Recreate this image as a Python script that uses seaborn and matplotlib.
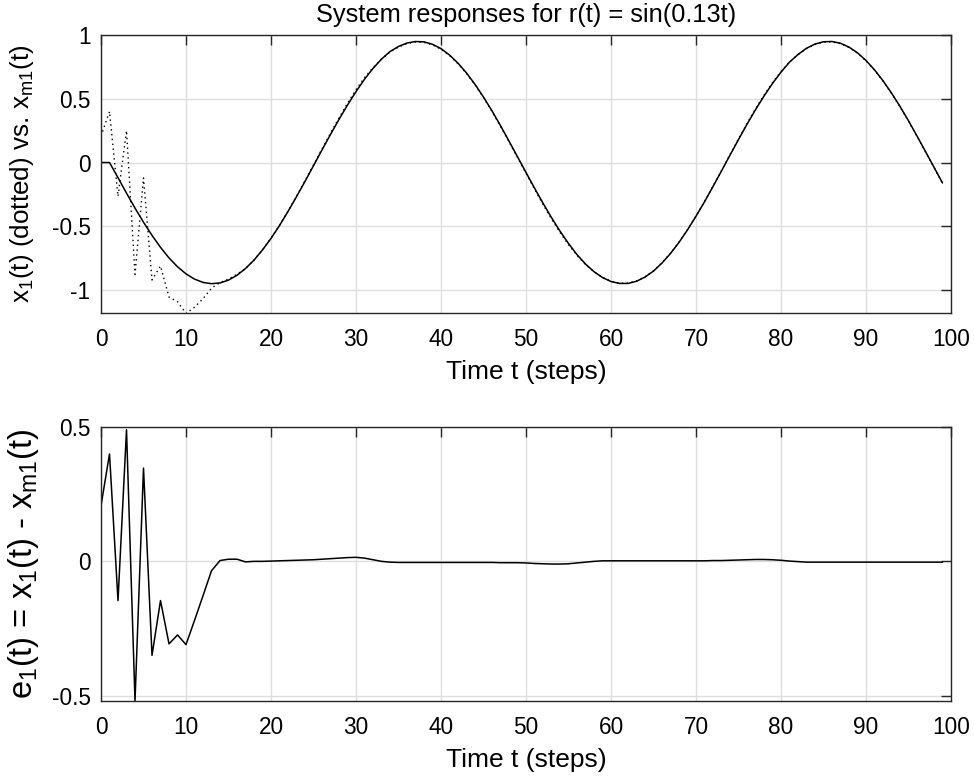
import numpy as np
import pandas as pd
import matplotlib
matplotlib.use("Agg")
import matplotlib.pyplot as plt
import seaborn as sns

# ---- data ----
t = list(range(100))

# reference-model output x_m1(t) (solid)
xm1 = [0.000, 0.000, -0.119, -0.240, -0.357, -0.468, -0.571, -0.665, -0.748, -0.817,
       -0.873, -0.914, -0.940, -0.950, -0.944, -0.922, -0.884, -0.831, -0.765, -0.685,
       -0.595, -0.494, -0.384, -0.268, -0.148, -0.025, 0.099, 0.220, 0.338, 0.451,
       0.556, 0.653, 0.738, 0.811, 0.870, 0.910, 0.937, 0.949, 0.946, 0.927,
       0.893, 0.843, 0.779, 0.702, 0.613, 0.513, 0.405, 0.289, 0.168, 0.045,
       -0.078, -0.200, -0.319, -0.432, -0.538, -0.635, -0.722, -0.796, -0.856, -0.902,
       -0.933, -0.948, -0.948, -0.931, -0.898, -0.851, -0.788, -0.713, -0.626, -0.528,
       -0.421, -0.308, -0.188, -0.066, 0.058, 0.180, 0.300, 0.414, 0.521, 0.620,
       0.709, 0.787, 0.847, 0.896, 0.929, 0.947, 0.949, 0.935, 0.905, 0.860,
       0.800, 0.727, 0.641, 0.545, 0.440, 0.327, 0.208, 0.086, -0.037, -0.160]

# tracking error e_1(t) = x_1(t) - x_m1(t)
e1 = [0.207, 0.400, -0.146, 0.490, -0.520, 0.347, -0.350, -0.146, -0.307, -0.274,
      -0.310, -0.220, -0.128, -0.035, 0.003, 0.008, 0.008, -0.002, 0.000, 0.000,
      0.001, 0.002, 0.003, 0.004, 0.005, 0.006, 0.008, 0.010, 0.012, 0.014,
      0.015, 0.012, 0.006, 0.000, -0.003, -0.004, -0.004, -0.004, -0.004, -0.004,
      -0.004, -0.004, -0.004, -0.004, -0.004, -0.004, -0.004, -0.005, -0.005, -0.005,
      -0.006, -0.008, -0.009, -0.010, -0.010, -0.009, -0.006, -0.003, 0.000, 0.002,
      0.002, 0.002, 0.002, 0.002, 0.002, 0.002, 0.002, 0.002, 0.002, 0.002,
      0.002, 0.002, 0.003, 0.003, 0.004, 0.005, 0.006, 0.007, 0.007, 0.006,
      0.004, 0.001, -0.001, -0.003, -0.003, -0.003, -0.003, -0.003, -0.003, -0.003,
      -0.003, -0.003, -0.003, -0.003, -0.003, -0.003, -0.003, -0.003, -0.003, -0.003]

# plant output x_1(t) (dotted) = x_m1 + e_1
x1 = [a + b for a, b in zip(xm1, e1)]

xticks = [0, 10, 20, 30, 40, 50, 60, 70, 80, 90, 100]
yticks_top = [-1, -0.5, 0, 0.5, 1]
yticks_bot = [-0.5, 0, 0.5]
ytick_labels_top = ["-1", "-0.5", "0", "0.5", "1"]
ytick_labels_bot = ["-0.5", "0", "0.5"]

title = "System responses for r(t) = sin(0.13t)"
xlabel = "Time t (steps)"
ylabel_top = r"x$_1$(t) (dotted) vs. x$_{\rm m1}$(t)"
ylabel_bot = r"e$_1$(t) = x$_1$(t) - x$_{\rm m1}$(t)"

df = pd.DataFrame({"t": t, "xm1": xm1, "x1": x1, "e1": e1})

# ---- styling ----
sns.set_theme(style="white")
plt.rcParams["font.family"] = ["Liberation Sans", "DejaVu Sans"]
plt.rcParams["mathtext.default"] = "regular"
plt.rcParams["mathtext.fontset"] = "custom"
plt.rcParams["mathtext.rm"] = "Liberation Sans"
plt.rcParams["mathtext.it"] = "Liberation Sans"

FS_TICK = 16.3
FS_TITLE = 18.3
FS_XLAB = 19
FS_YTOP = 18.8
FS_YBOT = 23.5
fig = plt.figure(figsize=(9.74, 7.81), dpi=100)
fig.patch.set_facecolor("white")
ax1 = fig.add_axes([0.1037, 0.5992, 0.8727, 0.3560])
ax2 = fig.add_axes([0.1037, 0.1024, 0.8727, 0.3508])

def style(ax):
    ax.set_facecolor("white")
    ax.grid(True, color="#dedede", linewidth=1.0)
    ax.set_axisbelow(True)
    for s in ax.spines.values():
        s.set_visible(True)
        s.set_color("#262626")
        s.set_linewidth(1.0)
    ax.tick_params(direction="in", length=7, width=1.0, colors="#262626",
                   top=True, right=True, labelsize=FS_TICK, labelcolor="black")
    ax.tick_params(axis="x", pad=10.5)
    ax.tick_params(axis="y", pad=7.5)
    ax.set_xlim(0, 100)
    ax.set_xticks(xticks)
    ax.set_xlabel(xlabel, fontsize=FS_XLAB, color="black", labelpad=6.5)

sns.lineplot(data=df, x="t", y="x1", ax=ax1, color="black", linewidth=1.0,
             linestyle=(0, (1, 2.5)))
sns.lineplot(data=df, x="t", y="xm1", ax=ax1, color="black", linewidth=1.1)
style(ax1)
ax1.set_ylim(-1.18, 1.0)
ax1.set_yticks(yticks_top)
ax1.set_yticklabels(ytick_labels_top)
ax1.set_ylabel(ylabel_top, fontsize=FS_YTOP, color="black")
ax1.yaxis.set_label_coords(-0.077, 0.5)
ax1.set_title(title, fontsize=FS_TITLE, color="black", pad=9)

sns.lineplot(data=df, x="t", y="e1", ax=ax2, color="black", linewidth=1.1)
style(ax2)
ax2.set_ylim(-0.52, 0.5)
ax2.set_yticks(yticks_bot)
ax2.set_yticklabels(ytick_labels_bot)
ax2.set_ylabel(ylabel_bot, fontsize=FS_YBOT, color="black")
ax2.yaxis.set_label_coords(-0.071, 0.5)

fig.savefig("out.png", dpi=100, facecolor="white")
